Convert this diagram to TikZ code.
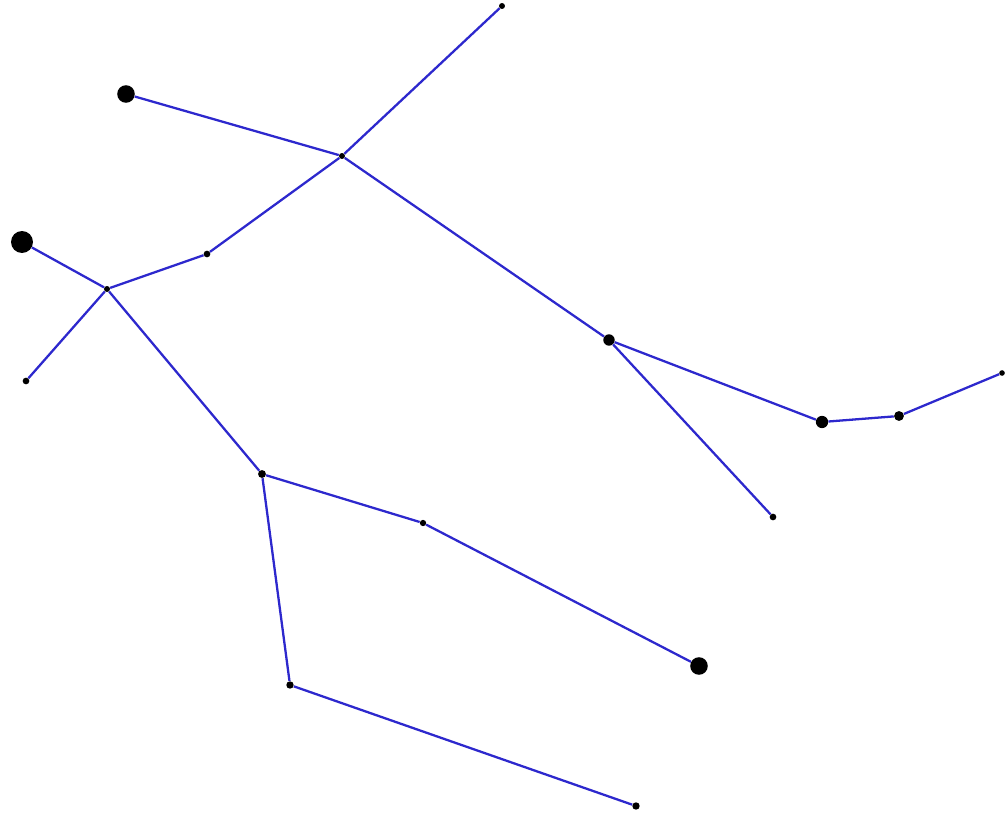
\documentclass[tikz,border=0pt]{standalone}
\usepackage{tikz}

\definecolor{edgeblue}{RGB}{45,40,205}

\begin{document}
\begin{tikzpicture}[x=0.02cm,y=-0.02cm,
	dot/.style={circle,fill=black,inner sep=0pt,minimum size=#1},
	dot/.default=5pt,
	edge/.style={draw=edgeblue,line width=1.3pt}]
	\useasboundingbox (0,0) rectangle (1008,814);
	\node [dot=3.4pt] (topTip) at (502,6) {};
	\node [dot=10pt] (upperBig) at (126,94) {};
	\node [dot=3.4pt] (hub) at (342,156) {};
	\node [dot=12.5pt] (leftBig) at (22,242) {};
	\node [dot=3.8pt] (knee) at (207,254) {};
	\node [dot=3.4pt] (cross) at (107,289) {};
	\node [dot=3.8pt] (leftTip) at (26,381) {};
	\node [dot=6.5pt] (fork) at (609,340) {};
	\node [dot=7pt] (lowMid) at (822,422) {};
	\node [dot=5.6pt] (rightMid) at (899,416) {};
	\node [dot=3.2pt] (rightTip) at (1002,373) {};
	\node [dot=3.8pt] (forkTip) at (773,517) {};
	\node [dot=4.5pt] (split) at (262,474) {};
	\node [dot=3.6pt] (bend) at (423,523) {};
	\node [dot=10pt] (lowBig) at (699,666) {};
	\node [dot=4.2pt] (foot) at (290,685) {};
	\node [dot=4.2pt] (footTip) at (636,806) {};
	\path [edge] (topTip) -- (hub)
		(upperBig) -- (hub)
		(hub) -- (knee)
		(hub) -- (fork)
		(knee) -- (cross)
		(leftBig) -- (cross)
		(cross) -- (leftTip)
		(cross) -- (split)
		(fork) -- (lowMid)
		(fork) -- (forkTip)
		(lowMid) -- (rightMid)
		(rightMid) -- (rightTip)
		(split) -- (bend)
		(bend) -- (lowBig)
		(split) -- (foot)
		(foot) -- (footTip);
\end{tikzpicture}
\end{document}
